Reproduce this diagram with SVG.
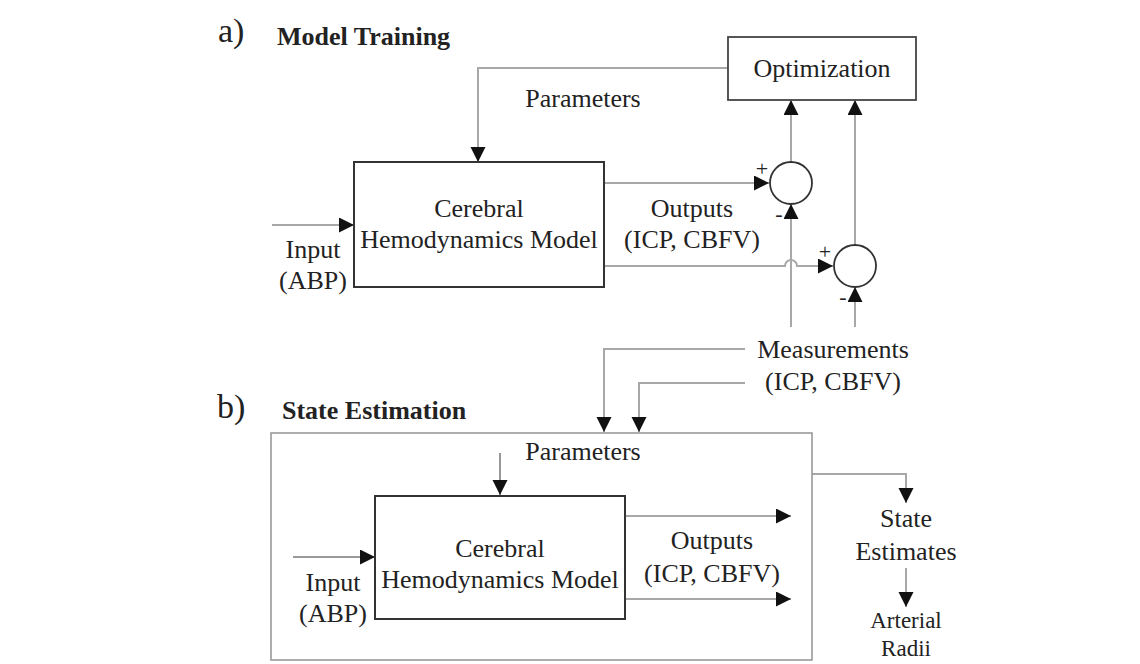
<svg xmlns="http://www.w3.org/2000/svg" width="1140" height="664" viewBox="0 0 1140 664">
<defs>
<style>
text{font-family:"Liberation Serif","Times New Roman",serif;fill:#222;font-size:26px}
.c{text-anchor:middle}
.b{font-weight:bold}
.lbl{font-size:34px}
.pm{font-size:22px}
.sm{font-size:23px}
.model{fill:#fff;stroke:#333;stroke-width:2}
.opt{fill:#fff;stroke:#444;stroke-width:1.8}
.sum{fill:#fff;stroke:#333;stroke-width:1.8}
.frame{fill:none;stroke:#999;stroke-width:1.6}
.ln{fill:none;stroke:#a8a8a8;stroke-width:2}
.lnd{fill:none;stroke:#777;stroke-width:1.5}
</style>
<marker id="ah" markerUnits="userSpaceOnUse" markerWidth="16" markerHeight="16" refX="15" refY="7.5" orient="auto">
<path d="M0,0 L15,7.5 L0,15 z" fill="#111"/>
</marker>
</defs>
<rect width="1140" height="664" fill="#fff"/>

<text class="lbl" x="218" y="42">a)</text>
<text class="b" x="277" y="45">Model Training</text>
<text class="lbl" x="217" y="418">b)</text>
<text class="b" x="282" y="419">State Estimation</text>

<g id="connectors">
<path class="ln" d="M728,68 H478 V162" marker-end="url(#ah)"/>
<path class="ln" d="M272,225 H354" marker-end="url(#ah)"/>
<path class="ln" d="M604,183 H769" marker-end="url(#ah)"/>
<path class="ln" d="M604,266 H785 A6,6 0 0 1 797,266 H833" marker-end="url(#ah)"/>
<path class="ln" d="M791,162 V100" marker-end="url(#ah)"/>
<path class="ln" d="M855,245 V100" marker-end="url(#ah)"/>
<path class="ln" d="M791,327 V204" marker-end="url(#ah)"/>
<path class="ln" d="M855,327 V287" marker-end="url(#ah)"/>
<path class="ln" d="M745,349 H604 V432" marker-end="url(#ah)"/>
<path class="ln" d="M745,383 H639 V432" marker-end="url(#ah)"/>
<path class="lnd" d="M500,453 V495" marker-end="url(#ah)"/>
<path class="lnd" d="M293,557 H375" marker-end="url(#ah)"/>
<path class="ln" d="M625,516 H791" marker-end="url(#ah)"/>
<path class="ln" d="M625,599 H791" marker-end="url(#ah)"/>
<path class="ln" d="M812,474 H906 V503" marker-end="url(#ah)"/>
<path class="ln" d="M906,568 V607" marker-end="url(#ah)"/>
</g>

<g id="model-training">
<rect class="model" x="354" y="162" width="250" height="125"/>
<text class="c" x="479" y="217">Cerebral</text>
<text class="c" x="479" y="248">Hemodynamics Model</text>
</g>

<g id="optimization">
<rect class="opt" x="728" y="37" width="188" height="63"/>
<text class="c" x="822" y="77">Optimization</text>
</g>

<g id="sum1">
<circle class="sum" cx="791" cy="183" r="21"/>
<text class="c pm" x="762" y="176">+</text>
<text class="c pm" x="779" y="221">-</text>
</g>

<g id="sum2">
<circle class="sum" cx="855" cy="266" r="21"/>
<text class="c pm" x="825" y="259">+</text>
<text class="c pm" x="843" y="304">-</text>
</g>

<g id="labels-a">
<text class="c" x="583" y="107">Parameters</text>
<text class="c" x="313" y="258">Input</text>
<text class="c" x="313" y="289">(ABP)</text>
<text class="c" x="692" y="217">Outputs</text>
<text class="c" x="692" y="248">(ICP, CBFV)</text>
</g>

<g id="measurements">
<text class="c" x="833" y="358">Measurements</text>
<text class="c" x="833" y="390">(ICP, CBFV)</text>
</g>

<g id="state-estimation">
<rect class="frame" x="271" y="433" width="541" height="227"/>
<text class="c" x="583" y="460">Parameters</text>
</g>

<g id="model-estimation">
<rect class="model" x="375" y="496" width="250" height="123"/>
<text class="c" x="500" y="557">Cerebral</text>
<text class="c" x="500" y="588">Hemodynamics Model</text>
<text class="c" x="333" y="591">Input</text>
<text class="c" x="333" y="622">(ABP)</text>
<text class="c" x="712" y="549">Outputs</text>
<text class="c" x="712" y="582">(ICP, CBFV)</text>
</g>

<g id="state-estimates">
<text class="c" x="906" y="527">State</text>
<text class="c" x="906" y="560">Estimates</text>
</g>

<g id="arterial-radii">
<text class="c sm" x="906" y="628">Arterial</text>
<text class="c sm" x="906" y="656">Radii</text>
</g>
</svg>
